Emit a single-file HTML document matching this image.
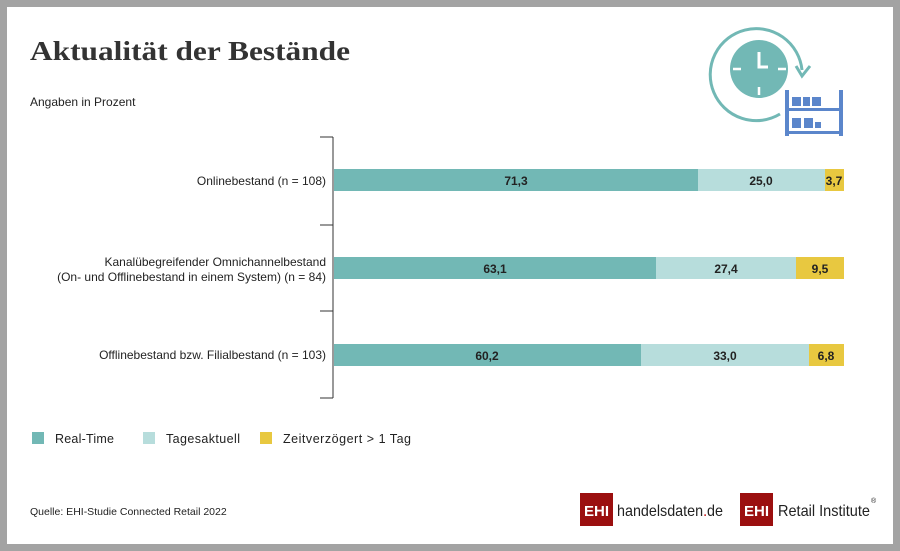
<!DOCTYPE html>
<html><head><meta charset="utf-8"><style>
body{margin:0;width:900px;height:551px;background:#a3a3a3;font-family:"Liberation Sans",sans-serif}
</style></head><body>
<svg width="900" height="551" xmlns="http://www.w3.org/2000/svg" style="display:block">
<rect x="0" y="0" width="900" height="551" fill="#a3a3a3"/>
<rect x="7" y="7" width="886" height="537" fill="#fff"/>
<text x="30" y="60" font-family="Liberation Serif,serif" font-weight="bold" font-size="27" fill="#333" textLength="320" lengthAdjust="spacingAndGlyphs">Aktualität der Bestände</text>
<text x="30" y="106" font-size="12" fill="#222">Angaben in Prozent</text>
<!-- icon -->
<path d="M 780 114 A 46 46 0 1 1 802 70" fill="none" stroke="#72b8b5" stroke-width="3"/>
<path d="M 796 66 L 802 76 L 810 66" fill="none" stroke="#72b8b5" stroke-width="3"/>
<circle cx="759" cy="69" r="29" fill="#72b8b5"/>
<path d="M759 52v15h9" stroke="#fff" stroke-width="3" fill="none"/>
<path d="M759 87v8M733 69h8M778 69h8" stroke="#fff" stroke-width="2.5"/>
<g fill="#5b86cb">
<rect x="785" y="90" width="4" height="46"/><rect x="839" y="90" width="4" height="46"/>
<rect x="785" y="108" width="58" height="3"/><rect x="785" y="131" width="58" height="3"/>
<rect x="792" y="97" width="9" height="9"/><rect x="803" y="97" width="7" height="9"/><rect x="812" y="97" width="9" height="9"/>
<rect x="792" y="118" width="9" height="10"/><rect x="804" y="118" width="9" height="10"/><rect x="815" y="122" width="6" height="6"/>
</g>
<!-- axis bracket -->
<path d="M333 137V398M320 137H333M320 225H333M320 311H333M320 398H333" stroke="#333" stroke-width="1" fill="none"/>
<g font-size="12" fill="#222" text-anchor="end">
<text x="326" y="185">Onlinebestand (n = 108)</text>
<text x="326" y="266">Kanalübegreifender Omnichannelbestand</text>
<text x="326" y="281">(On- und Offlinebestand in einem System) (n = 84)</text>
<text x="326" y="359">Offlinebestand bzw. Filialbestand (n = 103)</text>
</g>
<g font-size="12" font-weight="bold" fill="#222" text-anchor="middle">
<rect x="334" y="169" width="364" height="22" fill="#72b8b5"/>
<rect x="698" y="169" width="127" height="22" fill="#b7dddc"/>
<rect x="825" y="169" width="19" height="22" fill="#e8c840"/>
<text x="516" y="185">71,3</text><text x="761" y="185">25,0</text><text x="834" y="185">3,7</text>
<rect x="334" y="257" width="322" height="22" fill="#72b8b5"/>
<rect x="656" y="257" width="140" height="22" fill="#b7dddc"/>
<rect x="796" y="257" width="48" height="22" fill="#e8c840"/>
<text x="495" y="273">63,1</text><text x="726" y="273">27,4</text><text x="820" y="273">9,5</text>
<rect x="334" y="344" width="307" height="22" fill="#72b8b5"/>
<rect x="641" y="344" width="168" height="22" fill="#b7dddc"/>
<rect x="809" y="344" width="35" height="22" fill="#e8c840"/>
<text x="487" y="360">60,2</text><text x="725" y="360">33,0</text><text x="826" y="360">6,8</text>
</g>
<!-- legend -->
<rect x="32" y="432" width="12" height="12" fill="#72b8b5"/>
<rect x="143" y="432" width="12" height="12" fill="#b7dddc"/>
<rect x="260" y="432" width="12" height="12" fill="#e8c840"/>
<g font-size="12.5" fill="#222">
<text x="55" y="443" textLength="59">Real-Time</text>
<text x="166" y="443" textLength="74">Tagesaktuell</text>
<text x="283" y="443" textLength="128">Zeitverzögert &gt; 1 Tag</text>
<text x="30" y="515" font-size="10.5">Quelle: EHI-Studie Connected Retail 2022</text>
</g>
<!-- logos -->
<rect x="580" y="493" width="33" height="33" fill="#9b0f0f"/>
<text x="596.5" y="516" font-size="15" font-weight="bold" fill="#fff" text-anchor="middle">EHI</text>
<text x="617" y="516" font-size="16" fill="#222" textLength="106" lengthAdjust="spacingAndGlyphs">handelsdaten<tspan fill="#b00">.</tspan>de</text>
<rect x="740" y="493" width="33" height="33" fill="#9b0f0f"/>
<text x="756.5" y="516" font-size="15" font-weight="bold" fill="#fff" text-anchor="middle">EHI</text>
<text x="778" y="516" font-size="16" fill="#222" textLength="92" lengthAdjust="spacingAndGlyphs">Retail Institute</text>
<text x="871" y="503" font-size="7" fill="#222">®</text>
</svg>
</body></html>
